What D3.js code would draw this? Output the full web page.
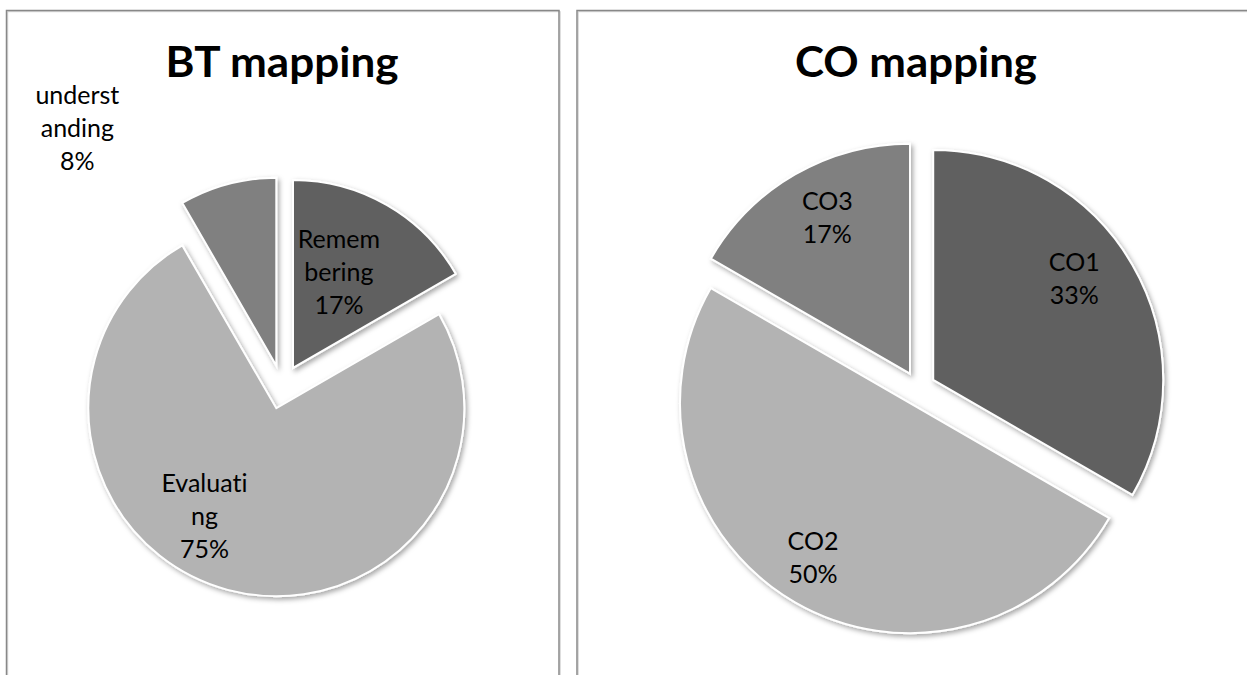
<!DOCTYPE html>
<html>
<head>
<meta charset="utf-8">
<script src="https://cdn.jsdelivr.net/npm/d3@7"></script>
<style>
  html, body { margin: 0; padding: 0; background: #fff; }
  svg { display: block; }
  text { font-variant-ligatures: none; font-feature-settings: "liga" 0, "clig" 0; }
</style>
</head>
<body>
<svg id="chart" width="1247" height="675"></svg>
<script>
// ---- data ----
const btTitle = "BT mapping";
const btCategories = ["Remembering", "Evaluating", "understanding"];
const btValues = [2, 9, 1];
const btLabelLines = [["Remem", "bering"], ["Evaluati", "ng"], ["underst", "anding"]];

const coTitle = "CO mapping";
const coCategories = ["CO1", "CO2", "CO3"];
const coValues = [4, 6, 2];
const coLabelLines = [["CO1"], ["CO2"], ["CO3"]];

const sliceColors = ["#616161", "#b3b3b3", "#808080"];

// ---- layout ----
const FONT = "Lato, 'Open Sans', sans-serif";
const svg = d3.select("#chart");

const defs = svg.append("defs");
const f = defs.append("filter").attr("id", "shadow")
  .attr("x", "-20%").attr("y", "-20%").attr("width", "140%").attr("height", "140%");
f.append("feDropShadow").attr("dx", 2).attr("dy", 2.5).attr("stdDeviation", 2.5)
  .attr("flood-color", "#000").attr("flood-opacity", 0.35);

// panel borders
const panels = [
  {x: 6.5, y: 10.5, w: 552.5, h: 700},
  {x: 577, y: 10.5, w: 700, h: 700}
];
panels.forEach(p => {
  svg.append("rect").attr("x", p.x + 1.2).attr("y", p.y + 1.2).attr("width", p.w).attr("height", p.h)
    .attr("fill", "none").attr("stroke", "#d0d0d0").attr("stroke-width", 1);
  svg.append("rect").attr("x", p.x).attr("y", p.y).attr("width", p.w).attr("height", p.h)
    .attr("fill", "none").attr("stroke", "#888").attr("stroke-width", 1.5);
});

const charts = [
  {title: btTitle, titleX: 282, titleY: 77, titleLen: 233, cats: btCategories, values: btValues, lines: btLabelLines,
   cx: 282, cy: 387, r: 188, explode: 22,
   labelPolar: [[25.8, 105.6], [213.4, 130.6], [320, 309.5]]},
  {title: coTitle, titleX: 916, titleY: 77, titleLen: 242, cats: coCategories, values: coValues, lines: coLabelLines,
   cx: 918.5, cy: 388.4, r: 230, explode: 17,
   labelPolar: [[54.6, 173], [212, 183], [332, 176]]}
];

const rad = Math.PI / 180;

charts.forEach(c => {
  svg.append("text")
    .attr("x", c.titleX).attr("y", c.titleY)
    .attr("text-anchor", "middle")
    .attr("font-family", FONT).attr("font-weight", 700).attr("font-size", 42)
    .attr("textLength", c.titleLen).attr("lengthAdjust", "spacingAndGlyphs")
    .attr("fill", "#000")
    .text(c.title);

  const pie = d3.pie().sort(null).value(d => d)(c.values);
  const arc = d3.arc().innerRadius(0).outerRadius(c.r);
  const total = d3.sum(c.values);
  const g = svg.append("g").attr("transform", `translate(${c.cx},${c.cy})`);

  pie.forEach((d, i) => {
    const mid = (d.startAngle + d.endAngle) / 2;
    const ox = c.explode * Math.sin(mid), oy = -c.explode * Math.cos(mid);
    g.append("path")
      .attr("d", arc(d))
      .attr("transform", `translate(${ox},${oy})`)
      .attr("fill", sliceColors[i])
      .attr("stroke", "#fff").attr("stroke-width", 2)
      .attr("filter", "url(#shadow)");
  });

  pie.forEach((d, i) => {
    const mid = (d.startAngle + d.endAngle) / 2;
    const ox = c.explode * Math.sin(mid), oy = -c.explode * Math.cos(mid);
    const [a, dist] = c.labelPolar[i];
    const lx = ox + dist * Math.sin(a * rad), ly = oy - dist * Math.cos(a * rad);
    const lines = c.lines[i].concat([Math.round(d.data / total * 100) + "%"]);
    const n = lines.length;
    const t = g.append("text")
      .attr("text-anchor", "middle")
      .attr("font-family", FONT).attr("font-size", 25)
      .attr("fill", "#000");
    lines.forEach((ln, k) => {
      t.append("tspan").attr("x", lx).attr("y", ly + (k - (n - 1) / 2) * 33 + 8).text(ln);
    });
  });
});
</script>
</body>
</html>
